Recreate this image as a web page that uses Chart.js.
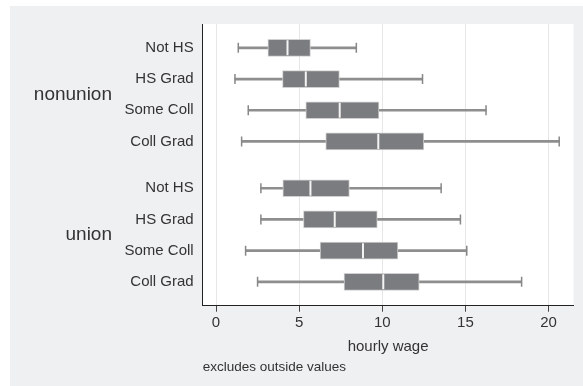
<!DOCTYPE html>
<html>
<head>
<meta charset="utf-8">
<script src="https://cdn.jsdelivr.net/npm/chart.js@4.4.1/dist/chart.umd.min.js"></script>
<style>
  html, body { margin: 0; padding: 0; background: #fff; }
  #moldura { position: absolute; left: 10px; top: 6px; width: 573px; height: 380px; background: #eff0f2; }
</style>
</head>
<body>
<div id="moldura"><canvas id="boxChart" width="573" height="380"></canvas></div>
<script>
// ============================================================
// Box plot horizontal: salário por hora, por sindicato e
// escolaridade. Caixas = barras flutuantes (Q1..Q3), bigodes =
// barras finas, mediana e pontas = pontos em forma de linha.
// ============================================================

// ---------------- dados ----------------
const grupos = ["nonunion", "union"];
const categorias = ["Not HS", "HS Grad", "Some Coll", "Coll Grad"];

// uma entrada por linha: nonunion (4) e depois union (4)
const bigodeInferior = [1.34, 1.14, 1.94, 1.54, 2.70, 2.70, 1.78, 2.50];
const quartil1       = [3.12, 4.00, 5.40, 6.60, 4.02, 5.26, 6.26, 7.70];
const mediana        = [4.30, 5.40, 7.44, 9.76, 5.68, 7.14, 8.84, 10.06];
const quartil3       = [5.68, 7.42, 9.80, 12.50, 8.02, 9.70, 10.94, 12.22];
const bigodeSuperior = [8.44, 12.42, 16.24, 20.64, 13.54, 14.70, 15.08, 18.38];

const ticksX = [0, 5, 10, 15, 20];
const tituloX = "hourly wage";
const nota = "excludes outside values";

// ---------------- posições das linhas no eixo Y ----------------
// meio espaço entre os dois grupos
const passoGrupo = categorias.length + 0.5;
const posicoes = [];
const rotulosLinha = [];
grupos.forEach((g, gi) => {
  categorias.forEach((c, ci) => {
    posicoes.push(gi * passoGrupo + ci);
    rotulosLinha.push(c);
  });
});
const centrosGrupo = grupos.map((g, gi) => gi * passoGrupo + (categorias.length - 1) / 2);

const Y_MIN = -0.765;
const Y_MAX = posicoes[posicoes.length - 1] + 0.765;

Chart.defaults.font.family = "'Liberation Sans', Arial, sans-serif";
Chart.defaults.color = "#333";

// fundo branco só na área do gráfico
const fundoAreaGrafico = {
  id: "fundoAreaGrafico",
  beforeDraw(chart) {
    const { ctx, chartArea: a } = chart;
    ctx.save();
    ctx.fillStyle = "#ffffff";
    ctx.fillRect(a.left, a.top, a.right - a.left, a.bottom - a.top);
    ctx.restore();
  },
};

const grafico = new Chart(document.getElementById("boxChart").getContext("2d"), {
  type: "bar",
  data: {
    datasets: [
      // bigodes: barra fina do mínimo ao máximo ajustado
      {
        label: "bigode",
        data: posicoes.map((p, k) => ({ x: [bigodeInferior[k], bigodeSuperior[k]], y: p })),
        backgroundColor: "#8e8e8e",
        barThickness: 2,
        grouped: false,
        yAxisID: "y",
        order: 3,
      },
      // caixas Q1..Q3
      {
        label: "caixa",
        data: posicoes.map((p, k) => ({ x: [quartil1[k], quartil3[k]], y: p })),
        backgroundColor: "#7b7c7f",
        borderColor: "#d0d0d0",
        borderWidth: 1,
        borderSkipped: false,
        barThickness: 17,
        grouped: false,
        yAxisID: "y",
        order: 2,
      },
      // pontas dos bigodes
      {
        label: "pontas",
        type: "scatter",
        data: posicoes.flatMap((p, k) => [{ x: bigodeInferior[k], y: p }, { x: bigodeSuperior[k], y: p }]),
        pointStyle: "line",
        rotation: 90,
        pointRadius: 5,
        borderColor: "#878787",
        borderWidth: 1.5,
        yAxisID: "y",
        order: 1,
      },
      // mediana: traço claro dentro da caixa
      {
        label: "mediana",
        type: "scatter",
        data: posicoes.map((p, k) => ({ x: mediana[k], y: p })),
        pointStyle: "line",
        rotation: 90,
        pointRadius: 7.5,
        borderColor: "#f4f4f4",
        borderWidth: 2,
        yAxisID: "y",
        order: 0,
      },
    ],
  },
  options: {
    indexAxis: "y",
    responsive: false,
    animation: false,
    events: [],
    layout: { padding: { left: 0, right: 8.7, top: 14, bottom: 0 } },
    scales: {
      x: {
        type: "linear",
        min: -0.8,
        max: 21.5,
        offset: false,
        afterBuildTicks: (eixo) => { eixo.ticks = ticksX.map((v) => ({ value: v })); },
        afterFit: (eixo) => { eixo.height = 53.2; },
        grid: { color: "#e6e6e6", lineWidth: 1, tickColor: "#444", tickLength: 6, offset: false },
        border: { color: "#222", width: 1 },
        ticks: { color: "#333", font: { size: 15 }, padding: 2, maxRotation: 0 },
        title: { display: true, text: tituloX, color: "#333", font: { size: 15 }, padding: { top: 4, bottom: 3 } },
      },
      y: {
        type: "linear",
        axis: "y",
        position: "left",
        reverse: true,
        offset: false,
        min: Y_MIN,
        max: Y_MAX,
        weight: 0,
        afterBuildTicks: (eixo) => { eixo.ticks = posicoes.map((v) => ({ value: v })); },
        afterFit: (eixo) => { eixo.width = 90.7; },
        grid: { display: true, offset: false, drawOnChartArea: false, drawTicks: false, color: "rgba(0,0,0,0)" },
        border: { display: true, color: "#222", width: 1 },
        ticks: { autoSkip: false, padding: 9, color: "#333", font: { size: 15 }, callback: (v, i) => rotulosLinha[i] },
      },
      yGrupo: {
        type: "linear",
        axis: "y",
        position: "left",
        reverse: true,
        offset: false,
        min: Y_MIN,
        max: Y_MAX,
        weight: 1,
        afterBuildTicks: (eixo) => { eixo.ticks = centrosGrupo.map((v) => ({ value: v })); },
        afterFit: (eixo) => { eixo.width = 102; },
        grid: { display: false, offset: false, drawTicks: false },
        border: { display: false },
        ticks: { autoSkip: false, padding: 0, color: "#333", font: { size: 19 }, callback: (v, i) => grupos[i] },
      },
    },
    plugins: {
      legend: { display: false },
      tooltip: { enabled: false },
      title: {
        display: true,
        text: nota,
        position: "bottom",
        align: "start",
        fullSize: false,
        color: "#333",
        font: { size: 13.5, weight: "normal" },
        padding: { top: 0, bottom: 10.9 },
      },
    },
  },
  plugins: [fundoAreaGrafico],
});
</script>
</body>
</html>
